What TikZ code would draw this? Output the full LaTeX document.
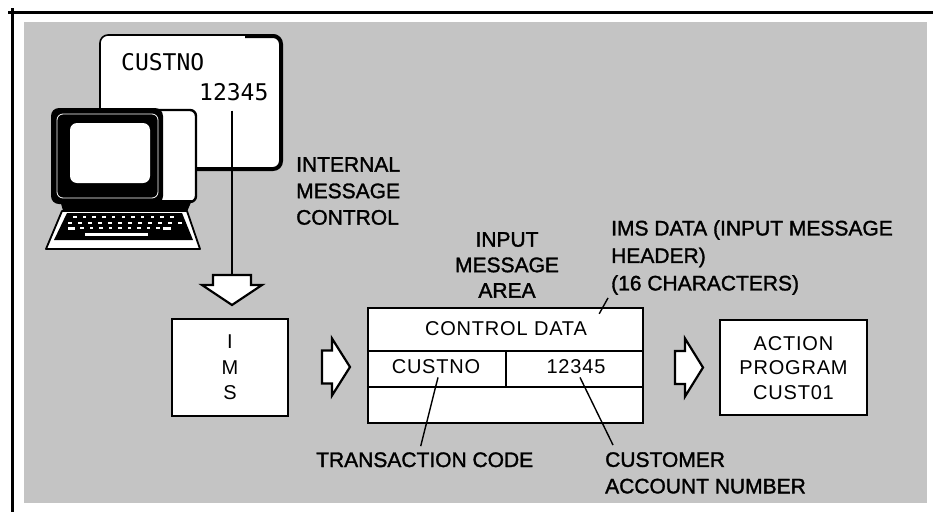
\documentclass[tikz,border=0pt]{standalone}
\usepackage{fontspec}
\setmainfont{Liberation Sans}
\newfontfamily\notefont[FakeBold=1.5]{Liberation Sans}
\newfontfamily\boxfont[LetterSpace=4]{Liberation Sans}
\newfontfamily\screenfont{DejaVu Sans Mono}
\usetikzlibrary{positioning}
\definecolor{halftone}{RGB}{196,196,196}

\tikzset{
  box/.style={draw, line width=2.4pt, fill=white, inner sep=0pt},
  boxtext/.style={font=\boxfont\fontsize{20}{24.5}\selectfont, inner sep=0pt, align=center},
  note/.style={font=\notefont\fontsize{21}{26.5}\selectfont, inner sep=0pt},
  leader/.style={line width=1.4pt},
  % hollow block arrow (length/head width/shaft width), pointing right, centred on its position
  pics/blockarrow/.style args={#1/#2/#3}{code={
      \draw[line width=2.2pt, fill=white, line join=miter]
        (-#1/2,-#3/2) -- (-#1/2+10,-#3/2) -- (-#1/2+10,-#2/2) -- (#1/2,0)
        -- (-#1/2+10,#2/2) -- (-#1/2+10,#3/2) -- (-#1/2,#3/2) -- cycle;
      \coordinate (-tail) at (-#1/2,0);
      \coordinate (-tip) at (#1/2,0);
  }},
}

\begin{document}
\begin{tikzpicture}[x=1pt, y=-1pt]
        \useasboundingbox[fill=white] (0,0) rectangle (935,512);

        % frame and shaded ground
        \fill[halftone] (24,22) rectangle (927,503);
        \draw[line width=3pt] (8,12) -- (933,12);
        \draw[line width=3pt] (12,8) -- (12,512);

        % display window
        \draw[fill=white, line width=1.6pt, rounded corners=8pt] (100,35) rectangle (281,169);
        \draw[line width=4pt, rounded corners=8pt] (245,36) -- (281,36) -- (281,169) -- (120,169);
        \node[font=\screenfont\fontsize{23}{23}\selectfont, inner sep=0pt, anchor=base west] (scrname) at (121,70) {CUSTNO};
        \node[font=\screenfont\fontsize{23}{23}\selectfont, inner sep=0pt, anchor=base west] (scrnum) at (199,100) {12345};

        % terminal
        \draw[fill=white, line width=2.4pt, rounded corners=6pt] (148,110) rectangle (196,202);
        \fill[black, rounded corners=8pt] (51,108) rectangle (163,204);
        \draw[white, line width=0.8pt, rounded corners=6pt] (57,114) rectangle (158,198);
        \fill[white, rounded corners=7pt] (70,123) rectangle (150,183);
        \fill[black] (60,200) -- (192,200) -- (186,214) -- (64,214) -- cycle;
        \draw[fill=white, line width=1.8pt, line join=round] (62,211) -- (187,211) -- (200,249) -- (46,249) -- cycle;
        \fill[black] (67,213) -- (182,213) -- (193,240) -- (54,240) -- cycle;
        \foreach \i in {0,...,10} {
            \fill[white] (73+9.7*\i,216) rectangle +(3.5,2);
        }
        \foreach \i in {0,...,11} {
            \fill[white] (68+10*\i,222) rectangle +(4,2);
        }
        \fill[white] (68,227) rectangle (75,229.5);
        \foreach \i in {0,...,9} {
            \fill[white] (80+9.5*\i,227) rectangle +(3.5,2);
        }
        \fill[white] (163,227) rectangle (171,229.5);
        \fill[white] (85,233) rectangle (148,235.5);

        % block arrows
        \pic[rotate=-90] (inarrow) at (232,290) {blockarrow={30/60/38}};
        \pic (toarea) at (336,367) {blockarrow={28/57/33}};
        \pic (toprog) at (689,367.5) {blockarrow={28/58/33}};

        \draw[line width=1.6pt] ([yshift=-10pt]scrnum.south -| inarrow-tail) -- (inarrow-tail);

        % IMS box
        \node[box, minimum width=116pt, minimum height=97pt] (ims) at (230,367.5) {};
        \node[boxtext, font=\boxfont\fontsize{20}{25.5}\selectfont] (imstext) at (ims) {I\\M\\S};

        % input message area
        \node[box, minimum width=275pt, minimum height=115pt] (area) at (505.5,365.5) {};
        \draw[line width=2.2pt] ([yshift=-44pt]area.north west) -- ([yshift=-44pt]area.north east);
        \draw[line width=2.2pt] ([yshift=-80pt]area.north west) -- ([yshift=-80pt]area.north east);
        \draw[line width=2.2pt] ([xshift=139pt,yshift=-44pt]area.north west) -- ([xshift=139pt,yshift=-80pt]area.north west);
        \node[boxtext, anchor=base] (ctrl) at (506,335) {CONTROL DATA};
        \node[boxtext, anchor=base] (tcode) at (436,373) {CUSTNO};
        \node[boxtext, anchor=base] (acct) at (576,373) {12345};

        % action program
        \node[box, minimum width=147pt, minimum height=95pt] (prog) at (793.5,367.5) {};
        \node[boxtext] (progtext) at (793.5,368) {ACTION\\PROGRAM\\CUST01};

        % labels
        \node[note, anchor=north west, align=left] (imc) at (296,157) {INTERNAL\\MESSAGE\\CONTROL};
        \node[note, anchor=north, align=center, font=\notefont\fontsize{21}{25.5}\selectfont] (areaname) at (507,232) {INPUT\\MESSAGE\\AREA};
        \node[note, anchor=north west, align=left, font=\notefont\fontsize{21}{27.5}\selectfont] (imsdata) at (611,220) {IMS DATA (INPUT MESSAGE\\HEADER)\\(16 CHARACTERS)};
        \node[note, anchor=base west] (trans) at (316,467) {TRANSACTION CODE};
        \node[note, anchor=north west, align=left] (cust) at (605,452) {CUSTOMER\\ACCOUNT NUMBER};

        % leaders
        \draw[leader] ([xshift=-45pt,yshift=-7pt]area.north east) -- ([xshift=-3pt,yshift=-3pt]imsdata.south west);
        \draw[leader] ([xshift=2pt,yshift=-4pt]tcode.south) -- ([xshift=-4pt,yshift=6pt]trans.north);
        \draw[leader] ([xshift=4pt,yshift=-4pt]acct.south) -- ([xshift=8pt,yshift=7pt]cust.north west);
    \end{tikzpicture}
\end{document}
